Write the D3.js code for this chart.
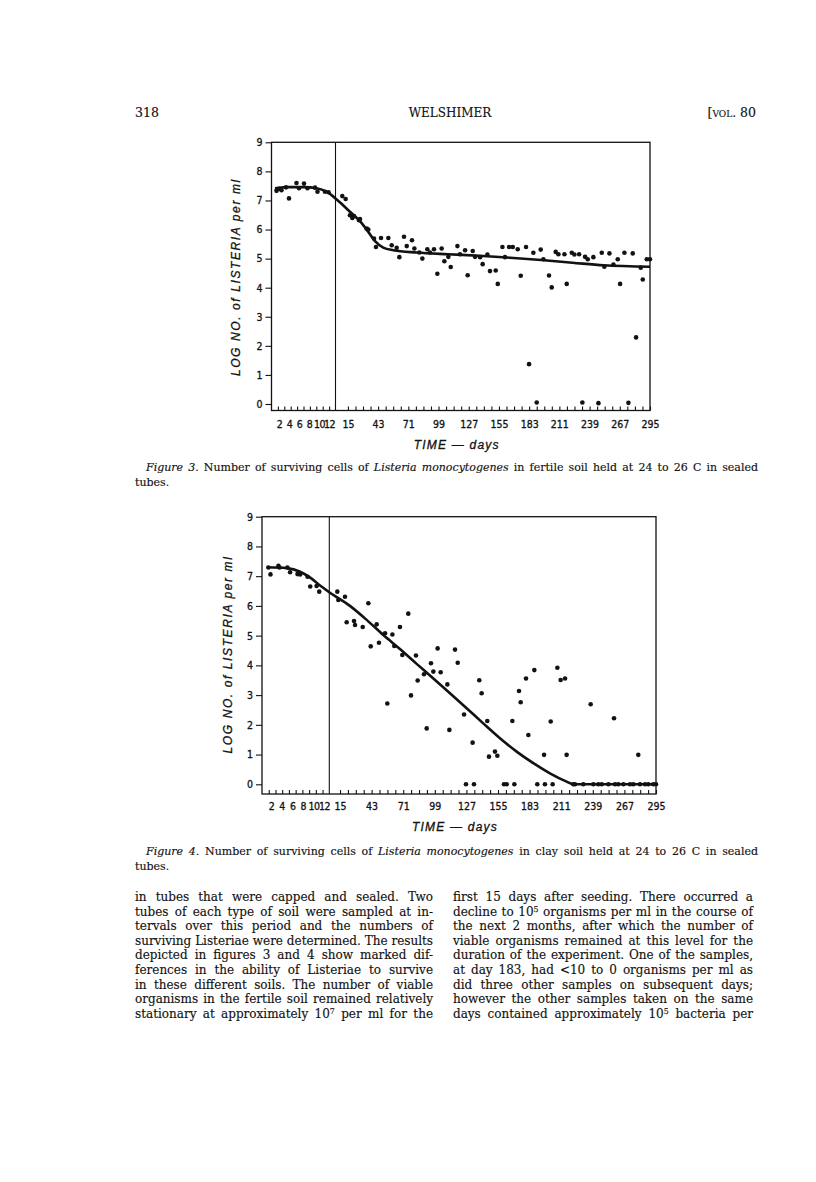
<!DOCTYPE html>
<html>
<head>
<meta charset="utf-8">
<script src="https://cdn.jsdelivr.net/npm/d3@7"></script>
<style>
body { margin: 0; background: #fff; }
</style>
</head>
<body>
<svg id="page" width="816" height="1182"></svg>
<script>
"use strict";

// axis values shared by both figures
var yTickValues = [0, 1, 2, 3, 4, 5, 6, 7, 8, 9];
var earlyTickLabels = [2, 4, 6, 8, 10, 12];
var lateTickLabels = [15, 43, 71, 99, 127, 155, 183, 211, 239, 267, 295];

// figure 3 - fertile soil, [day, log count]
var fertileEarly = [[1.5,7.33],[1.6,7.38],[2.0,7.40],[2.5,7.35],[3.4,7.45],[4.0,7.07],[5.5,7.60],
  [6.0,7.42],[7.0,7.58],[7.7,7.42],[9.2,7.44],[9.7,7.30],[11.2,7.30],[11.9,7.28]];
var fertileLate = [[9.8,7.15],[12.9,7.05],[16.9,6.49],[19.1,6.40],[20.7,6.46],[25.3,6.32],[26.2,6.36],
  [32.4,6.03],[33.9,6.00],[39.2,5.69],[41.0,5.40],[45.7,5.71],[52.5,5.71],[55.6,5.46],[60.2,5.37],
  [62.7,5.05],[67.0,5.75],[69.5,5.43],[74.4,5.63],[76.6,5.35],[81.2,5.21],[84.0,5.00],[88.6,5.32],
  [91.1,5.21],[94.8,5.32],[97.9,4.48],[101.9,5.35],[104.4,4.91],[108.1,5.06],[110.3,4.71],[116.5,5.43],
  [118.9,5.15],[123.6,5.29],[126.0,4.43],[130.7,5.26],[132.8,5.06],[137.5,5.05],[139.9,4.81],[144.3,5.14],
  [146.7,4.57],[152.0,4.59],[153.9,4.13],[158.2,5.40],[160.6,5.05],[164.4,5.40],[167.8,5.40],[172.4,5.32],
  [175.2,4.41],[180.1,5.40],[182.9,1.37],[186.9,5.20],[190.0,0.05],[193.7,5.31],[196.2,4.98],[201.4,4.42],
  [203.9,4.01],[207.6,5.23],[210.1,5.15],[215.7,5.15],[217.8,4.13],[222.5,5.20],[224.9,5.14],[229.3,5.15],
  [232.3,0.05],[234.8,5.06],[237.3,4.98],[242.5,5.05],[247.2,0.03],[250.3,5.20],[252.7,4.72],[257.4,5.18],
  [261.1,4.80],[265.1,4.98],[267.3,4.13],[271.3,5.20],[275.0,0.04],[279.0,5.18],[282.1,2.29],[286.4,4.69],
  [288.3,4.28],[292.0,4.98],[295.0,4.98]];
var fertileCurveEarly = [[1.2,7.42],[4,7.46],[7,7.46],[9.5,7.42],[11.5,7.30]];
var fertileCurveLate = [[3.5,7.07],[9.8,6.86],[16.9,6.61],[26.2,6.29],[33.9,5.92],[40.1,5.60],[47.8,5.38],
  [57.1,5.29],[78.7,5.21],[107.6,5.15],[136.5,5.10],[165.3,5.03],[194.2,4.95],[223.1,4.86],[252,4.77],[295,4.72]];

// figure 4 - clay soil, [day, log count]
var clayEarly = [[1.5,7.29],[1.9,7.06],[3.4,7.35],[3.6,7.29],[5.1,7.29],[5.6,7.13],[7.0,7.07],
  [7.5,7.06],[8.9,6.98],[9.4,6.65],[10.6,6.67],[11.1,6.48]];
var clayLate = [[12.6,6.48],[13.5,6.20],[19.4,6.31],[20.9,5.45],[27.4,5.49],[28.3,5.36],[35.1,5.29],
  [40.1,6.09],[42.2,4.64],[47.5,5.38],[49.5,4.76],[54.9,5.08],[56.9,2.72],[61.4,5.04],[63.1,4.65],
  [68.1,5.29],[70.2,4.35],[75.5,5.74],[77.9,2.99],[82.3,4.33],[83.8,3.49],[89.4,3.70],[91.8,1.88],
  [95.6,4.07],[97.7,3.79],[101.5,4.57],[104.2,3.77],[110.1,3.36],[111.9,1.83],[116.9,4.53],[119.3,4.09],
  [124.9,2.35],[126.6,0],[132.5,1.40],[133.7,0],[138.4,3.50],[140.5,3.06],[145.5,2.13],[147.0,0.93],
  [152.3,1.10],[154.4,0.96],[160.3,0],[162.7,0],[167.7,2.13],[169.5,0],[173.6,3.14],[175.1,2.76],
  [179.8,3.56],[181.9,1.66],[187.2,3.84],[189.8,0],[195.8,0.99],[196.6,0],[201.7,2.11],[203.4,0],
  [207.6,3.92],[210.5,3.51],[214.4,3.56],[215.8,0.99],[221.7,0],[223.2,0],[230.6,0],[237.1,2.69],
  [239.5,0],[243.9,0],[246.9,0],[252.8,0],[257.8,2.22],[258.7,0],[261.6,0],[266.1,0],[272.0,0],
  [274.9,0],[279.3,0.99],[280.8,0],[285.3,0],[288.2,0],[292.6,0],[295,0]];
var clayCurveEarly = [[1.2,7.30],[5,7.27],[7.5,7.15],[9.4,6.95],[11,6.72]];
var clayCurveLate = [[5.5,6.46],[23.8,6.00],[38.6,5.53],[53.4,5.02],[68.1,4.55],[82.9,4.05],[97.7,3.56],
  [112.4,3.06],[127.2,2.56],[141.9,2.05],[156.7,1.55],[171.5,1.10],[186.3,0.71],[201,0.37],[215.8,0.09],
  [221.7,0],[295,0]];

// page text
var headerTexts = ["318", "WELSHIMER", "[VOL. 80"];
var caption3 = ["*Figure 3.* Number of surviving cells of *Listeria monocytogenes* in fertile soil held at 24 to 26 C in sealed", "tubes."];
var caption4 = ["*Figure 4.* Number of surviving cells of *Listeria monocytogenes* in clay soil held at 24 to 26 C in sealed", "tubes."];
var leftColumn = [
  "in tubes that were capped and sealed. Two",
  "tubes of each type of soil were sampled at in-",
  "tervals over this period and the numbers of",
  "surviving Listeriae were determined. The results",
  "depicted in figures 3 and 4 show marked dif-",
  "ferences in the ability of Listeriae to survive",
  "in these different soils. The number of viable",
  "organisms in the fertile soil remained relatively",
  "stationary at approximately 10^7 per ml for the"];
var rightColumn = [
  "first 15 days after seeding. There occurred a",
  "decline to 10^5 organisms per ml in the course of",
  "the next 2 months, after which the number of",
  "viable organisms remained at this level for the",
  "duration of the experiment. One of the samples,",
  "at day 183, had <10 to 0 organisms per ml as",
  "did three other samples on subsequent days;",
  "however the other samples taken on the same",
  "days contained approximately 10^5 bacteria per"];

var ink = "#121212";
var serif = "'DejaVu Serif', 'Liberation Serif', serif";
var letterFont = "'Liberation Sans Narrow', 'DejaVu Sans Condensed', 'Liberation Sans', sans-serif";
var labelFont = "'Liberation Sans', 'DejaVu Sans', sans-serif";

var svg = d3.select("#page");
svg.append("rect").attr("width", 816).attr("height", 1182).attr("fill", "#fff");

// write one line of running text, *..* is italic and ^n a superscript;
// a width justifies the line by stretching the word spaces
function textLine(x, y, str, size, width, anchor) {
  var t = svg.append("text")
    .attr("x", x).attr("y", y)
    .attr("font-family", serif)
    .attr("font-size", size)
    .attr("fill", ink)
    .attr("stroke", ink).attr("stroke-width", 0.15)
    .attr("text-anchor", anchor || "start");
  str.split(/(\*[^*]+\*|\^\d)/).forEach(function(p) {
    if (!p) return;
    var s = t.append("tspan");
    if (p[0] == "*") {
      s.text(p.slice(1, -1)).attr("font-style", "italic");
    } else if (p[0] == "^") {
      s.text(p.slice(1)).attr("font-size", size * 0.65).attr("baseline-shift", "super");
    } else {
      s.text(p);
    }
  });
  if (width) {
    var natural = t.node().getComputedTextLength();
    var gaps = (t.text().match(/ /g) || []).length;
    if (natural > width) {
      t.attr("textLength", width).attr("lengthAdjust", "spacingAndGlyphs");
    } else if (gaps) {
      t.style("word-spacing", ((width - natural) / gaps) + "px");
    }
  }
  return t;
}

function drawFigure(o) {
  var g = svg.append("g");
  var xe = d3.scaleLinear().domain(o.earlyDomain).range([o.left, o.divider]);
  var xl = d3.scaleLinear().domain(o.lateDomain).range([o.divider, o.right]);
  var y = d3.scaleLinear().domain([0, 9]).range([o.y0, o.y9]);

  // frame and the break between the first days and the rest
  g.append("rect")
    .attr("x", o.left).attr("y", o.y9)
    .attr("width", o.right - o.left).attr("height", o.bottom - o.y9)
    .attr("fill", "none").attr("stroke", ink).attr("stroke-width", 1.3);
  g.append("line")
    .attr("x1", o.divider).attr("x2", o.divider)
    .attr("y1", o.y9).attr("y2", o.bottom)
    .attr("stroke", ink).attr("stroke-width", 1.1);

  // y axis
  var yAxis = d3.axisLeft(y).tickValues(yTickValues).tickSize(6).tickPadding(3).tickFormat(d3.format("d"));
  var ya = g.append("g").attr("transform", "translate(" + o.left + ",0)").call(yAxis);
  ya.select(".domain").remove();

  // small ticks standing on the bottom line
  var earlyMinor = d3.range(1, 10).map(function(i) {
    return o.earlyDomain[0] + i * (o.earlyDomain[1] - o.earlyDomain[0]) / 10;
  });
  var lateMinor = d3.range(lateTickLabels[0], 296, 7);
  var ea = g.append("g").attr("transform", "translate(0," + o.bottom + ")")
    .call(d3.axisBottom(xe).tickValues(earlyMinor).tickSizeInner(-4).tickSizeOuter(0).tickFormat(""));
  var la = g.append("g").attr("transform", "translate(0," + o.bottom + ")")
    .call(d3.axisBottom(xl).tickValues(lateMinor).tickSizeInner(-4).tickSizeOuter(0).tickFormat(""));
  ea.select(".domain").remove();
  la.select(".domain").remove();

  // day labels
  var el = g.append("g").attr("transform", "translate(0," + o.bottom + ")")
    .call(d3.axisBottom(xe).tickValues(earlyTickLabels).tickSize(0).tickPadding(o.labelPad));
  var ll = g.append("g").attr("transform", "translate(0," + o.bottom + ")")
    .call(d3.axisBottom(xl).tickValues(lateTickLabels).tickSize(0).tickPadding(o.labelPad));
  el.select(".domain").remove();
  ll.select(".domain").remove();

  [ya, ea, la, el, ll].forEach(function(a) {
    a.attr("font-family", letterFont).attr("font-size", 10.5);
    a.selectAll("line").attr("stroke", ink).attr("stroke-width", 1.1);
    a.selectAll("text").attr("fill", ink).attr("stroke", ink).attr("stroke-width", 0.3);
  });
  el.selectAll("text").attr("letter-spacing", -0.5);

  // fitted curve
  var curvePts = o.curveEarly.map(function(d) { return [xe(d[0]), y(d[1])]; })
    .concat(o.curveLate.map(function(d) { return [xl(d[0]), y(d[1])]; }));
  g.append("path")
    .attr("d", d3.line().curve(d3.curveMonotoneX)(curvePts))
    .attr("fill", "none").attr("stroke", ink).attr("stroke-width", 2.6)
    .attr("stroke-linejoin", "round");

  // observations
  g.append("g").selectAll("circle").data(o.early).enter().append("circle")
    .attr("cx", function(d) { return xe(d[0]); })
    .attr("cy", function(d) { return y(d[1]); })
    .attr("r", 2.3).attr("fill", ink);
  g.append("g").selectAll("circle").data(o.late).enter().append("circle")
    .attr("cx", function(d) { return xl(d[0]); })
    .attr("cy", function(d) { return y(d[1]); })
    .attr("r", 2.3).attr("fill", ink);

  // axis titles
  var cx = (o.left + o.right) / 2 - 4;
  g.append("text")
    .attr("x", cx).attr("y", o.bottom + o.titlePad)
    .attr("text-anchor", "middle")
    .attr("font-family", labelFont).attr("font-style", "italic").attr("font-size", 12)
    .attr("letter-spacing", 1.2).attr("fill", ink).attr("stroke", ink).attr("stroke-width", 0.3)
    .text("TIME \u2014 days");
  var cy = (o.y0 + o.y9) / 2 + 4;
  g.append("text")
    .attr("transform", "translate(" + (o.left - o.ytitleOff) + "," + cy + ") rotate(-90)")
    .attr("text-anchor", "middle")
    .attr("font-family", labelFont).attr("font-style", "italic").attr("font-size", 12)
    .attr("letter-spacing", 1.6).attr("fill", ink).attr("stroke", ink).attr("stroke-width", 0.3)
    .text("LOG NO. of LISTERIA per ml");
}

// header
textLine(135, 117, headerTexts[0], 12.5);
textLine(450, 117, headerTexts[1], 12, null, "middle");
svg.append("text").attr("x", 756).attr("y", 117).attr("text-anchor", "end")
  .attr("font-family", serif).attr("font-size", 12.5).attr("fill", ink)
  .attr("stroke", ink).attr("stroke-width", 0.15)
  .attr("font-variant", "small-caps").text(headerTexts[2].replace("VOL", "vol"));

drawFigure({
  left: 271.5, divider: 335.5, right: 650, y9: 142.3, y0: 404, bottom: 410.5,
  earlyDomain: [0.5, 13.3], lateDomain: [3.5, 295],
  early: fertileEarly, late: fertileLate,
  curveEarly: fertileCurveEarly, curveLate: fertileCurveLate,
  labelPad: 10, titlePad: 38, ytitleOff: 32
});
textLine(146, 471, caption3[0], 11, 612);
textLine(135, 486, caption3[1], 11);

drawFigure({
  left: 262, divider: 329.3, right: 656, y9: 516.7, y0: 784.3, bottom: 794,
  earlyDomain: [0.3, 13], lateDomain: [5.5, 295],
  early: clayEarly, late: clayLate,
  curveEarly: clayCurveEarly, curveLate: clayCurveLate,
  labelPad: 9, titlePad: 37, ytitleOff: 30
});
textLine(146, 855, caption4[0], 11, 612);
textLine(135, 870, caption4[1], 11);

// two columns of running text
leftColumn.forEach(function(s, i) { textLine(135, 901 + i * 14.6, s, 12, 298); });
rightColumn.forEach(function(s, i) { textLine(453, 901 + i * 14.6, s, 12, 300); });
</script>
</body>
</html>
